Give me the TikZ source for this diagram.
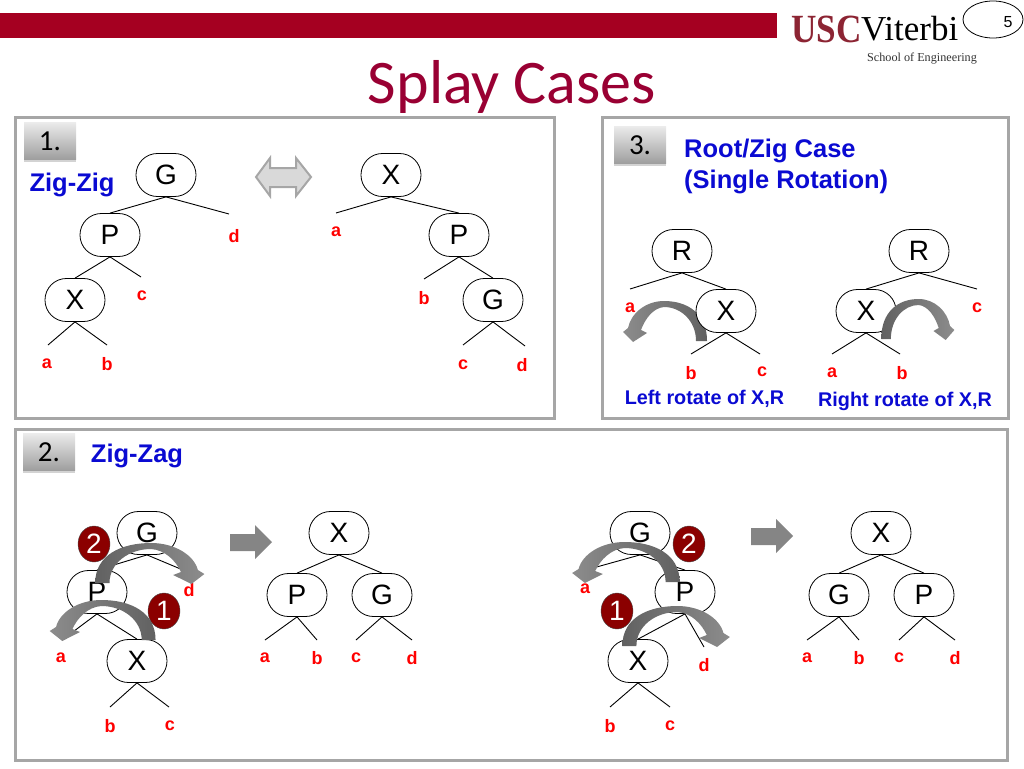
\documentclass[tikz,border=0pt]{standalone}
\usepackage{fontspec}
\usepackage{amsmath}
\usepackage{graphicx}
\usetikzlibrary{shadows}
\usetikzlibrary{shapes.geometric}
\setmainfont{Liberation Sans}
\newfontfamily\titlefont{Carlito}
\newfontfamily\logofont{Liberation Serif}
\definecolor{barred}{HTML}{A50021}
\definecolor{titlered}{HTML}{990033}
\definecolor{uscred}{HTML}{8C2433}
\definecolor{panelgray}{HTML}{A6A6A6}
\definecolor{labelblue}{HTML}{0A0AD2}
\definecolor{badgered}{HTML}{8B0000}
\tikzset{
    treenode/.style={draw, fill=white, rounded corners=21.4pt, minimum width=60pt, minimum height=43pt, inner sep=0pt, line width=0.8pt, font=\fontsize{28}{30}\selectfont},
    treeedge/.style={line width=0.9pt},
    leaflabel/.style={text=red, inner sep=0pt, font=\bfseries\fontsize{18}{20}\selectfont},
    bluelabel/.style={text=labelblue, inner sep=0pt, font=\bfseries\fontsize{25.5}{27}\selectfont},
    smallblue/.style={text=labelblue, inner sep=0pt, font=\bfseries\fontsize{19.8}{22}\selectfont},
    panel/.style={draw=panelgray, line width=3pt},
    numtab/.style={top color=white!92!black, bottom color=black!38, minimum width=52pt, minimum height=37pt, inner sep=0pt, font=\titlefont\fontsize{29}{30}\selectfont, drop shadow={shadow xshift=0pt, shadow yshift=-2pt, opacity=0.35}},
    stepdot/.style={ellipse, draw=black!70, fill=badgered, text=white, minimum width=32pt, minimum height=36pt, inner sep=0pt, font=\fontsize{28}{30}\selectfont},
    turnleft/.style={left color=black!45, middle color=black!35, right color=black!62},
    turnright/.style={left color=black!62, middle color=black!35, right color=black!45},
    blockarrow/.style={fill=black!48}
}
\newcommand{\turnarrow}[3]{
    \shade[#1, shift={(#2)}, xscale=#3] (6,0) .. controls (6,-28) and (-14,-40) .. (-37,-40)
        .. controls (-55,-40) and (-70,-28) .. (-73,-13) -- (-78,-9) -- (-68,1) -- (-54,-8) -- (-60,-11)
        .. controls (-56,-22) and (-48,-33) .. (-37,-34) .. controls (-20,-34) and (-5,-20) .. (-5,0) -- cycle;
}
\begin{document}
\begin{tikzpicture}[x=1pt, y=-1pt]
    \useasboundingbox (0,0) rectangle (1024,768);
    \fill[barred] (0,13) rectangle (777,38);
    \node[text=titlered, font=\titlefont\fontsize{62}{64}\selectfont] (title) at (512,87) {Splay Cases};
    \node[text=uscred, inner sep=0pt, anchor=west, font=\logofont\bfseries\fontsize{40}{42}\selectfont] (usc) at (791,29) {\scalebox{0.88}[1]{USC}};
    \node[inner sep=0pt, anchor=west, font=\logofont\fontsize{35}{40}\selectfont] (viterbi) at (861,29) {Viterbi};
    \node[inner sep=0pt, text=black!80, font=\logofont\fontsize{12.2}{14}\selectfont] (school) at (922,59) {School of Engineering};
    \node[draw, ellipse, minimum width=60pt, minimum height=37pt, line width=0.8pt] (pageoval) at (993,19.5) {};
    \node[inner sep=0pt, font=\fontsize{16}{18}\selectfont] (pagenum) at (1008,22) {5};

    \draw[panel] (15,117) rectangle (554,418);
    \draw[panel] (602,117) rectangle (1008,418);
    \draw[panel] (15,429) rectangle (1007,760);
    \node[numtab] (tabone) at (50,141) {1.};
    \node[numtab] (tabthree) at (640,145) {3.};
    \node[numtab] (tabtwo) at (49,452) {2.};
    \node[bluelabel] (zigzig) at (72,185) {Zig-Zig};
    \node[bluelabel, anchor=west] (rootzig) at (684,151) {Root/Zig Case};
    \node[bluelabel, anchor=west] (single) at (684,182) {(Single Rotation)};
    \node[bluelabel] (zigzag) at (137,456) {Zig-Zag};
    \node[smallblue] (leftrot) at (704.5,399) {Left rotate of X,R};
    \node[smallblue] (rightrot) at (905,401) {Right rotate of X,R};

    \draw[fill=black!15, draw=black!35, line width=2pt] (256,177) -- (270,158) -- (270,168) -- (296,168) -- (296,158) -- (311,177) -- (296,196) -- (296,187) -- (270,187) -- (270,196) -- cycle;
    \fill[blockarrow] (230,534) -- (255,534) -- (255,525) -- (272,542) -- (255,559) -- (255,551) -- (230,551) -- cycle;
    \fill[blockarrow] (751,528) -- (776,528) -- (776,519) -- (793,536) -- (776,553) -- (776,545) -- (751,545) -- cycle;

    \turnarrow{turnleft}{701,341}{1}

    \foreach \nm/\x/\y/\lab in {
        ga/166/175/G, pa/110/235/P, xa/75/300/X,
        xb/391/175/X, pb/459/235/P, gb/493/300/G,
        rc/682/251/R, xc/726/311/X,
        rd/919/251/R, xd/866/311/X,
        ge/147/533/G, pe/97/592/P, xe/137/661/X,
        xf/339/533/X, pf/297/595/P, gf/382/595/G,
        gg/640/533/G, pg/685/592/P, xg/638/661/X,
        xh/881/533/X, gh/839/595/G, ph/924/595/P}
        \node[treenode] (\nm) at (\x,\y) {\lab};

    \foreach \nm/\x/\y in {
        enda/229/214, endb/141/277, endc/48/345, endd/107/345,
        ende/336/213, endf/424/279, endg/463/345, endh/525/346,
        endi/630/289, endj/691/354, endk/760/354,
        endl/977/289, endm/832/354, endn/900/354,
        endo/183/570, endp/62/640, endq/110/707, endr/169/707,
        ends/265/640, endt/317/640, endu/356/640, endv/412/640,
        endw/593/568, endx/704/647, endy/610/707, endz/670/707,
        endaa/807/640, endab/859/640, endac/899/640, endad/955/640}
        \coordinate (\nm) at (\x,\y);

    \foreach \a/\b in {ga/pa, pa/xa, xb/pb, pb/gb, rc/xc, rd/xd, ge/pe, pe/xe, xf/pf, xf/gf, gg/pg, pg/xg, xh/gh, xh/ph}
        \draw[treeedge] (\a.south) -- (\b.north);

    \foreach \a/\b in {ga/enda, pa/endb, xa/endc, xa/endd, xb/ende, pb/endf, gb/endg, gb/endh,
        rc/endi, xc/endj, xc/endk, rd/endl, xd/endm, xd/endn,
        ge/endo, pe/endp, xe/endq, xe/endr,
        pf/ends, pf/endt, gf/endu, gf/endv,
        gg/endw, pg/endx, xg/endy, xg/endz,
        gh/endaa, gh/endab, ph/endac, ph/endad}
        \draw[treeedge] (\a.south) -- (\b);

    \foreach \nm/\x/\y/\lab in {
        la/234/236/d, lb/142/296/c, lc/47/364/a, ld/107/364/b,
        le/336/232/a, lf/424/298/b, lg/463/365/c, lh/522/365/d,
        li/630/308/a, lj/691/373/b, lk/762/372/c,
        ll/977/308/c, lm/832/373/a, ln/902/373/b,
        lo/189/590/d, lp/61/658/a, lq/110/726/b, lr/170/726/c,
        ls/265/658/a, lt/317/658/b, lu/356/658/c, lv/412/658/d,
        lw/585/589/a, lx/704/665/d, ly/610/726/b, lz/670/726/c,
        laa/807/658/a, lab/859/658/b, lac/899/658/c, lad/955/658/d}
        \node[leaflabel] (\nm) at (\x,\y) {\lab};

    \turnarrow{turnright}{886.5,339}{-0.87}
    \turnarrow{turnright}{103,583}{-1.3}
    \turnarrow{turnleft}{148,640}{1.26}
    \turnarrow{turnleft}{672,582}{1.28}
    \turnarrow{turnright}{630,646}{-1.28}

    \node[stepdot] (twoa) at (94,544) {2};
    \node[stepdot] (onea) at (164,611) {1};
    \node[stepdot] (twob) at (689,544) {2};
    \node[stepdot] (oneb) at (617,611) {1};
\end{tikzpicture}
\end{document}
